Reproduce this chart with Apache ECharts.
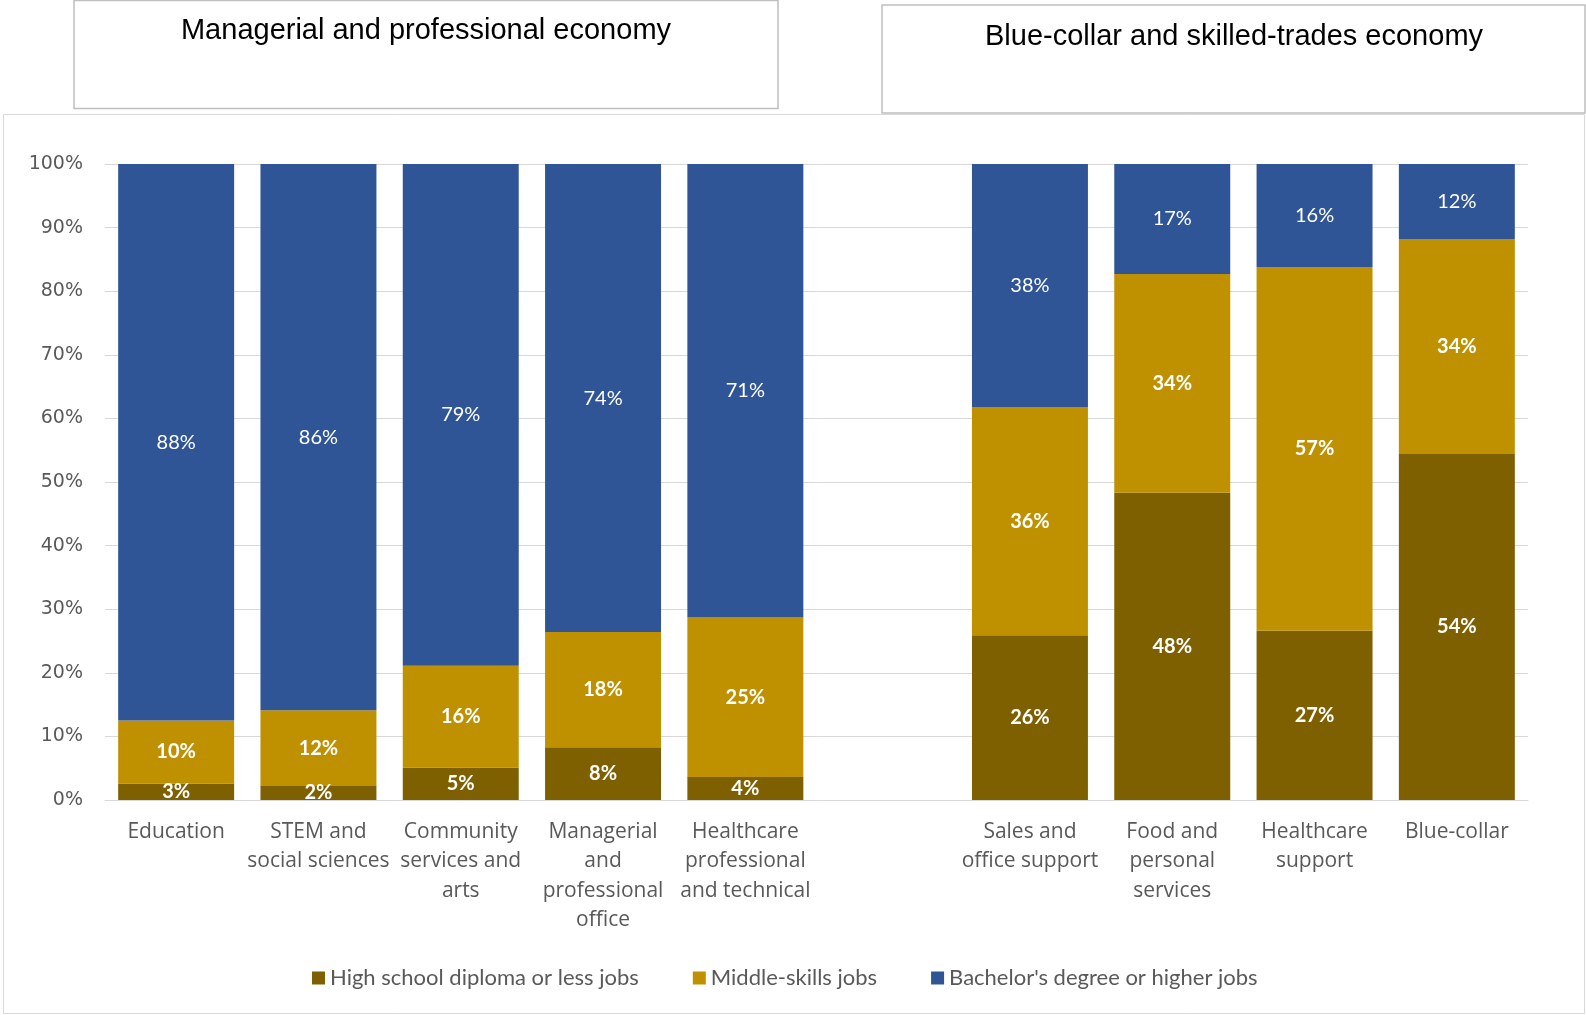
<!DOCTYPE html>
<html>
<head>
<meta charset="utf-8">
<script src="https://cdn.jsdelivr.net/npm/echarts@6/dist/echarts.min.js"></script>
<style>
  html, body { margin: 0; padding: 0; background: #fff; }
  #main { width: 1586px; height: 1015px; }
</style>
</head>
<body>
<div id="main"></div>
<script type="text/javascript">
var categories = [
    'Education',
    'STEM and\nsocial sciences',
    'Community\nservices and\narts',
    'Managerial\nand\nprofessional\noffice',
    'Healthcare\nprofessional\nand technical',
    '',
    'Sales and\noffice support',
    'Food and\npersonal\nservices',
    'Healthcare\nsupport',
    'Blue-collar'
];
// share of jobs (%) by education level, '-' = spacer column between the two groups
var highSchool = [2.6, 2.2, 5.1, 8.3, 3.6, '-', 25.9, 48.3, 26.6, 54.4];
var middleSkills = [9.9, 11.9, 16.0, 18.1, 25.1, '-', 35.9, 34.4, 57.2, 33.8];
var bachelor = [87.5, 85.9, 78.9, 73.6, 71.3, '-', 38.2, 17.3, 16.2, 11.8];
var seriesNames = ['High school diploma or less jobs', 'Middle-skills jobs', "Bachelor's degree or higher jobs"];
var yTicks = [0, 10, 20, 30, 40, 50, 60, 70, 80, 90, 100];

var colors = ['#7f6000', '#bf9000', '#2f5597'];

var chart = echarts.init(document.getElementById('main'));

function pct(p) {
    return Math.round(p.value) + '%';
}

function barSeries(name, data, color, bold) {
    return {
        name: name,
        type: 'bar',
        stack: 'jobs',
        data: data,
        barCategoryGap: '18.5%',
        itemStyle: { color: color },
        label: {
            show: true,
            position: 'inside',
            formatter: pct,
            color: '#ffffff',
            fontFamily: 'Lato',
            fontSize: 20,
            fontWeight: bold ? 'bold' : 'normal'
        }
    };
}

var option = {
    animation: false,
    color: colors,
    graphic: [
        {
            type: 'rect',
            shape: { x: 74, y: 0.5, width: 704, height: 108 },
            style: { fill: '#fff', stroke: '#bfbfbf', lineWidth: 1.5 }
        },
        {
            type: 'text',
            x: 426, y: 31,
            style: {
                text: 'Managerial and professional economy',
                fill: '#000',
                font: '29px "Liberation Sans"',
                align: 'center',
                verticalAlign: 'middle'
            }
        },
        {
            type: 'rect',
            shape: { x: 882, y: 5, width: 703, height: 108 },
            style: { fill: '#fff', stroke: '#bfbfbf', lineWidth: 1.5 }
        },
        {
            type: 'text',
            x: 1234, y: 37,
            style: {
                text: 'Blue-collar and skilled-trades economy',
                fill: '#000',
                font: '29px "Liberation Sans"',
                align: 'center',
                verticalAlign: 'middle'
            }
        },
        {
            type: 'rect',
            z: -10,
            shape: { x: 3.5, y: 114.5, width: 1581, height: 899 },
            style: { fill: '#fff', stroke: '#d9d9d9', lineWidth: 1 }
        }
    ],
    legend: {
        data: seriesNames,
        left: 307,
        top: 962,
        icon: 'rect',
        itemWidth: 13,
        itemHeight: 13,
        itemGap: 54,
        textStyle: { fontFamily: 'Lato', fontSize: 22, color: '#595959' }
    },
    grid: {
        left: 105,
        right: 58,
        top: 164,
        bottom: 215,
        containLabel: false
    },
    xAxis: {
        type: 'category',
        data: categories,
        axisLine: { lineStyle: { color: '#d9d9d9', width: 1 } },
        axisTick: { show: false },
        axisLabel: {
            interval: 0,
            margin: 17,
            fontFamily: 'Open Sans',
            fontSize: 21,
            lineHeight: 29.5,
            color: '#595959'
        }
    },
    yAxis: {
        type: 'value',
        min: yTicks[0],
        max: yTicks[yTicks.length - 1],
        interval: 10,
        axisLine: { show: false },
        axisTick: { show: false },
        splitLine: { lineStyle: { color: '#d9d9d9', width: 1 } },
        axisLabel: {
            margin: 22,
            formatter: '{value}%',
            fontFamily: 'DejaVu Sans',
            fontSize: 19,
            color: '#595959'
        }
    },
    series: [
        barSeries(seriesNames[0], highSchool, colors[0], true),
        barSeries(seriesNames[1], middleSkills, colors[1], true),
        barSeries(seriesNames[2], bachelor, colors[2], false)
    ]
};

chart.setOption(option);
</script>
</body>
</html>
